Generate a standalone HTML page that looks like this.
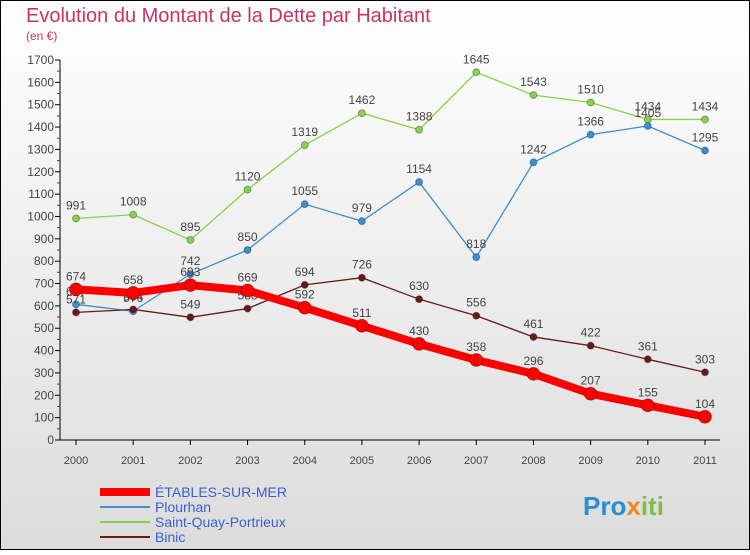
<!DOCTYPE html>
<html><head><meta charset="utf-8"><style>
body{margin:0;width:750px;height:550px;overflow:hidden;font-family:"Liberation Sans",sans-serif}
</style></head><body>
<svg id="c" width="750" height="550" xmlns="http://www.w3.org/2000/svg">
<defs><linearGradient id="bg" x1="0" y1="0" x2="0" y2="1"><stop offset="0" stop-color="#ffffff"/><stop offset="1" stop-color="#dcdcdc"/></linearGradient></defs>
<rect x="0.5" y="0.5" width="749" height="549" fill="url(#bg)" stroke="#000"/>
<text x="26" y="22" font-size="20" fill="#c8336a">Evolution du Montant de la Dette par Habitant</text>
<text x="26" y="40" font-size="12" fill="#c8336a">(en €)</text>
<g id="axes"></g><g id="series"></g><g id="legend"></g>
<text x="583" y="515" font-size="26" font-weight="bold" fill="#2a8fd0">Pro<tspan fill="#f08a1c">x</tspan><tspan fill="#7bc043">iti</tspan></text>
</svg>
<script>
const years=[2000,2001,2002,2003,2004,2005,2006,2007,2008,2009,2010,2011];
const yTicks=[0,100,200,300,400,500,600,700,800,900,1000,1100,1200,1300,1400,1500,1600,1700];
const etables=[674,658,693,669,592,511,430,358,296,207,155,104];
const plourhan=[607,576,742,850,1055,979,1154,818,1242,1366,1405,1295];
const saintQuay=[991,1008,895,1120,1319,1462,1388,1645,1543,1510,1434,1434];
const binic=[571,584,549,588,694,726,630,556,461,422,361,303];
const NS="http://www.w3.org/2000/svg";
const X=i=>76+i*(705-76)/(years.length-1);
const Y=v=>440-v*(380/1700);
function mk(t,a,p){const e=document.createElementNS(NS,t);for(const k in a)e.setAttribute(k,a[k]);p.appendChild(e);return e;}
const ax=document.getElementById('axes');
const yl=mk('line',{x1:60,y1:Y(0),x2:60,y2:Y(1700),stroke:'#000'},ax);


const xl=mk('line',{x1:60,y1:Y(0),x2:720,y2:Y(0),stroke:'#000'},ax);


yTicks.forEach((v,k)=>{
 mk('line',{x1:55,x2:60,y1:Y(v),y2:Y(v),stroke:'#000'},ax);
 if(k<yTicks.length-1) mk('line',{x1:57,x2:60,y1:Y(v+50),y2:Y(v+50),stroke:'#e00'},ax);
 const t=mk('text',{x:54,y:Y(v)+4,'font-size':12,'text-anchor':'end',fill:'#444'},ax);
 t.textContent=v;
 
 
});
years.forEach((y,i)=>{
 mk('line',{x1:X(i),x2:X(i),y1:440,y2:445,stroke:'#000'},ax);
 const t=mk('text',{x:X(i),y:464,'font-size':11,'text-anchor':'middle',fill:'#444'},ax);
 t.textContent=y;
 
 
});
const sg=document.getElementById('series');
function series(data,color,w,r,name){
 const g=mk('g',{},sg);
 
 
 mk('polyline',{points:data.map((v,i)=>X(i)+','+Y(v)).join(' '),fill:'none',stroke:color,'stroke-width':w},g);
 data.forEach((v,i)=>{
  const c=mk('circle',{cx:X(i),cy:Y(v),r:r,fill:color,stroke:'rgba(0,0,0,0.3)'},g);
  
  
  const t=mk('text',{x:X(i),y:Y(v)-9,'font-size':12,'text-anchor':'middle',fill:'#444'},g);
  t.textContent=v;
  
  
 });
}
series(saintQuay,'#88d14c',1.3,3.5,'saint-quay');
series(plourhan,'#3a8fd0',1.3,3.5,'plourhan');
series(binic,'#6b1a1a',1.3,3.5,'binic');
series(etables,'#ff0000',8,6.5,'etables');
const lg=document.getElementById('legend');
const items=[['ÉTABLES-SUR-MER','#ff0000',8],['Plourhan','#3a8fd0',2],['Saint-Quay-Portrieux','#88d14c',2],['Binic','#6b1a1a',2]];
items.forEach((it,i)=>{
 const y=492+i*15;
 const g=mk('g',{},lg);
 
 
 mk('line',{x1:100,x2:150,y1:y,y2:y,stroke:it[1],'stroke-width':it[2]},g);
 const t=mk('text',{x:155,y:y+5,'font-size':14,fill:'#3a5fd0'},g);
 t.textContent=it[0];
});
</script>
</body></html>
